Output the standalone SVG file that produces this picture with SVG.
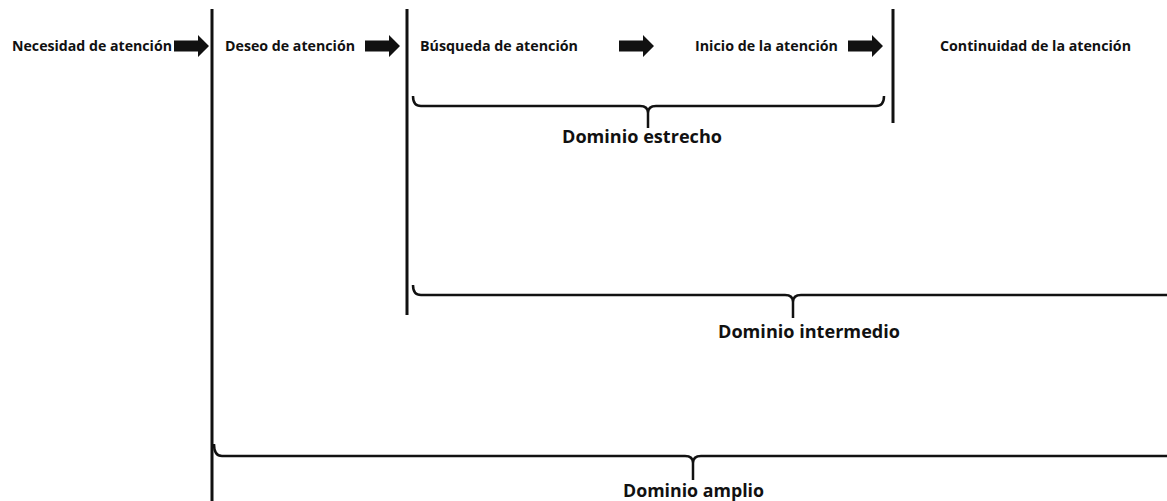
<svg xmlns="http://www.w3.org/2000/svg" xmlns:xlink="http://www.w3.org/1999/xlink" width="1167" height="501" viewBox="0 0 1167 501">
<style>
.stage{font-family:"Open Sans","Noto Sans","Liberation Sans",sans-serif;font-weight:bold;font-size:14px;fill:#111}
.dom{font-family:"Open Sans","Noto Sans","Liberation Sans",sans-serif;font-weight:bold;font-size:18px;fill:#111}
.vline{stroke:#111;stroke-width:3;fill:none}
.brace{stroke:#111;stroke-width:2.5;fill:none}
</style>
<defs>
<path id="arr" d="M0,-5.5 H24 V-11 L35,0 L24,11 V5.5 H0 Z" fill="#111"/>
</defs>
<rect width="1167" height="501" fill="#fff"/>
<g id="n1"><text class="stage" x="12" y="51" textLength="160" lengthAdjust="spacingAndGlyphs">Necesidad de atención</text></g>
<g id="n2"><text class="stage" x="225" y="51" textLength="130" lengthAdjust="spacingAndGlyphs">Deseo de atención</text></g>
<g id="n3"><text class="stage" x="420" y="51" textLength="158" lengthAdjust="spacingAndGlyphs">Búsqueda de atención</text></g>
<g id="n4"><text class="stage" x="695" y="51" textLength="143" lengthAdjust="spacingAndGlyphs">Inicio de la atención</text></g>
<g id="n5"><text class="stage" x="940" y="51" textLength="191" lengthAdjust="spacingAndGlyphs">Continuidad de la atención</text></g>
<g id="connectors">
<use xlink:href="#arr" href="#arr" transform="translate(174,46)"/>
<use xlink:href="#arr" href="#arr" transform="translate(365,46)"/>
<use xlink:href="#arr" href="#arr" transform="translate(619,46)"/>
<use xlink:href="#arr" href="#arr" transform="translate(848,46)"/>
</g>
<g id="dividers">
<line class="vline" x1="212" y1="9" x2="212" y2="501"/>
<line class="vline" x1="407" y1="9" x2="407" y2="315"/>
<line class="vline" x1="893" y1="9" x2="893" y2="123"/>
</g>
<g id="d1">
<path class="brace" d="M413,96 Q413,106 421,106 H640 Q648,106 648,113 V128 M648,113 Q648,106 656,106 H876 Q884,106 884,96"/>
<text class="dom" x="562" y="143" textLength="160" lengthAdjust="spacingAndGlyphs">Dominio estrecho</text>
</g>
<g id="d2">
<path class="brace" d="M413,285 Q413,295 421,295 H785 Q793,295 793,302 V318 M793,302 Q793,295 801,295 H1167"/>
<text class="dom" x="718" y="338" textLength="182" lengthAdjust="spacingAndGlyphs">Dominio intermedio</text>
</g>
<g id="d3">
<path class="brace" d="M214,444 Q214,456 222,456 H685 Q693,456 693,463 V480 M693,463 Q693,456 701,456 H1167"/>
<text class="dom" x="623" y="497" textLength="141" lengthAdjust="spacingAndGlyphs">Dominio amplio</text>
</g>
</svg>
